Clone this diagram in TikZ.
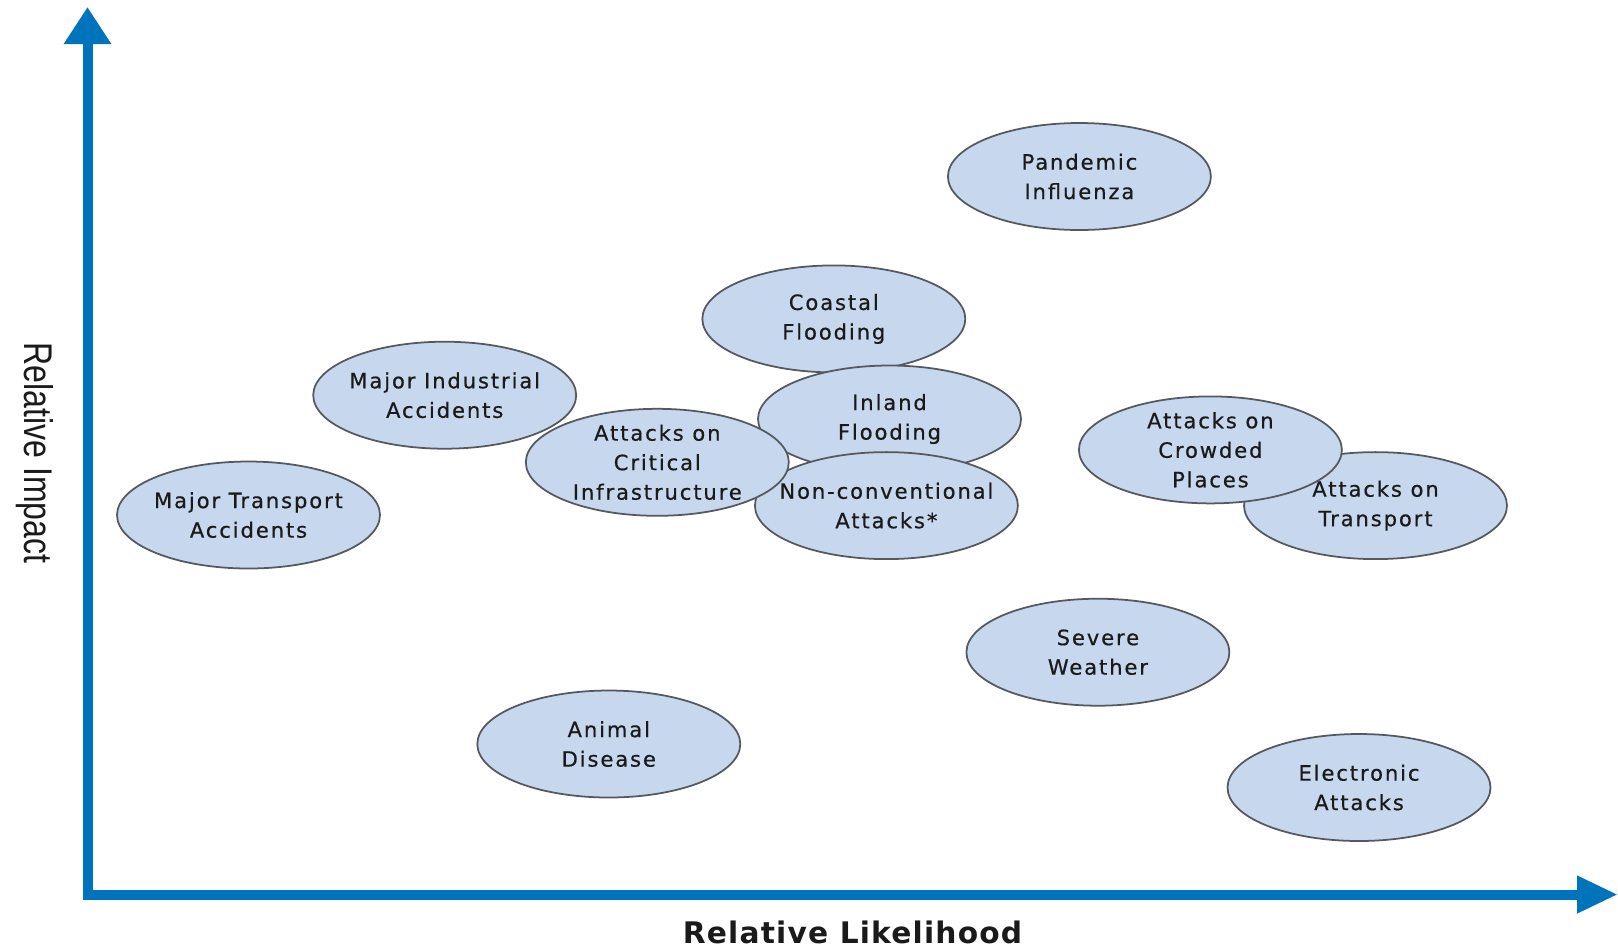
\documentclass[tikz,border=0pt]{standalone}
\usepackage{fontspec}
\setmainfont{DejaVu Sans}[LetterSpace=9,FakeBold=0.6]
\newfontfamily\axisfont{Liberation Sans}[FakeStretch=0.8]
\newfontfamily\likefont{DejaVu Sans}[LetterSpace=4]
\usetikzlibrary{arrows.meta,positioning,shapes.geometric}

\definecolor{axisblue}{RGB}{0,115,189}
\definecolor{hazardfill}{RGB}{199,216,238}
\definecolor{hazardline}{RGB}{85,88,95}
\definecolor{inktext}{RGB}{26,26,26}

\begin{document}
\begin{tikzpicture}[
    x=0.02cm, y=-0.02cm,
    hazard/.style={ellipse, draw=hazardline, fill=hazardfill, line width=1pt,
        minimum width=5.26cm, minimum height=2.14cm, inner xsep=-0.4cm, inner ysep=-0.2cm,
        align=center, text=inktext, font=\fontsize{12}{16.8}\selectfont},
    axis/.style={draw=axisblue, line width=0.2cm, line join=miter,
        {Triangle[length=0.74cm,width=0.9cm]}-{Triangle[length=0.82cm,width=0.7cm]}},
    axislabel/.style={text=inktext, inner sep=0pt}
]
\useasboundingbox (0,0) rectangle (1618,948);

% Axes
\coordinate (ytop) at (87.5,7);
\coordinate (origin) at (87.5,894.5);
\coordinate (xend) at (1618,894.5);
\draw[axis] (ytop) -- (origin) -- (xend);

\node[axislabel, rotate=-90, font=\axisfont\fontsize{22.8}{26}\selectfont] (impact) at (35,453) {Relative Impact};
\node[axislabel, font=\likefont\bfseries\fontsize{16.9}{20}\selectfont] (likelihood) at (852.5,932) {Relative Likelihood};

% Hazards
\node[hazard] (flu) at (1079.4,176.5) {Pandemic\\Influenza};
\node[hazard] (coastal) at (833.8,318.9) {Coastal\\Flooding};
\node[hazard] (industrial) at (444.7,395.2) {Major Industrial\\Accidents};
\node[hazard] (inland) at (889.5,419.0) {Inland\\Flooding};
\node[hazard] (nonconv) at (886.4,505.6) {Non-conventional\\Attacks*};
\node[hazard] (critical) at (657.3,462.3) {Attacks on\\Critical\\Infrastructure};
\node[hazard] (transport) at (1375.5,505.6) {Attacks on\\Transport};
\node[hazard] (crowded) at (1210.4,449.9) {Attacks on\\Crowded\\Places};
\node[hazard] (accidents) at (248.5,515) {Major Transport\\Accidents};
\node[hazard] (weather) at (1097.9,652.2) {Severe\\Weather};
\node[hazard] (animal) at (608.8,744.0) {Animal\\Disease};
\node[hazard] (cyber) at (1359,787.5) {Electronic\\Attacks};

\end{tikzpicture}
\end{document}
